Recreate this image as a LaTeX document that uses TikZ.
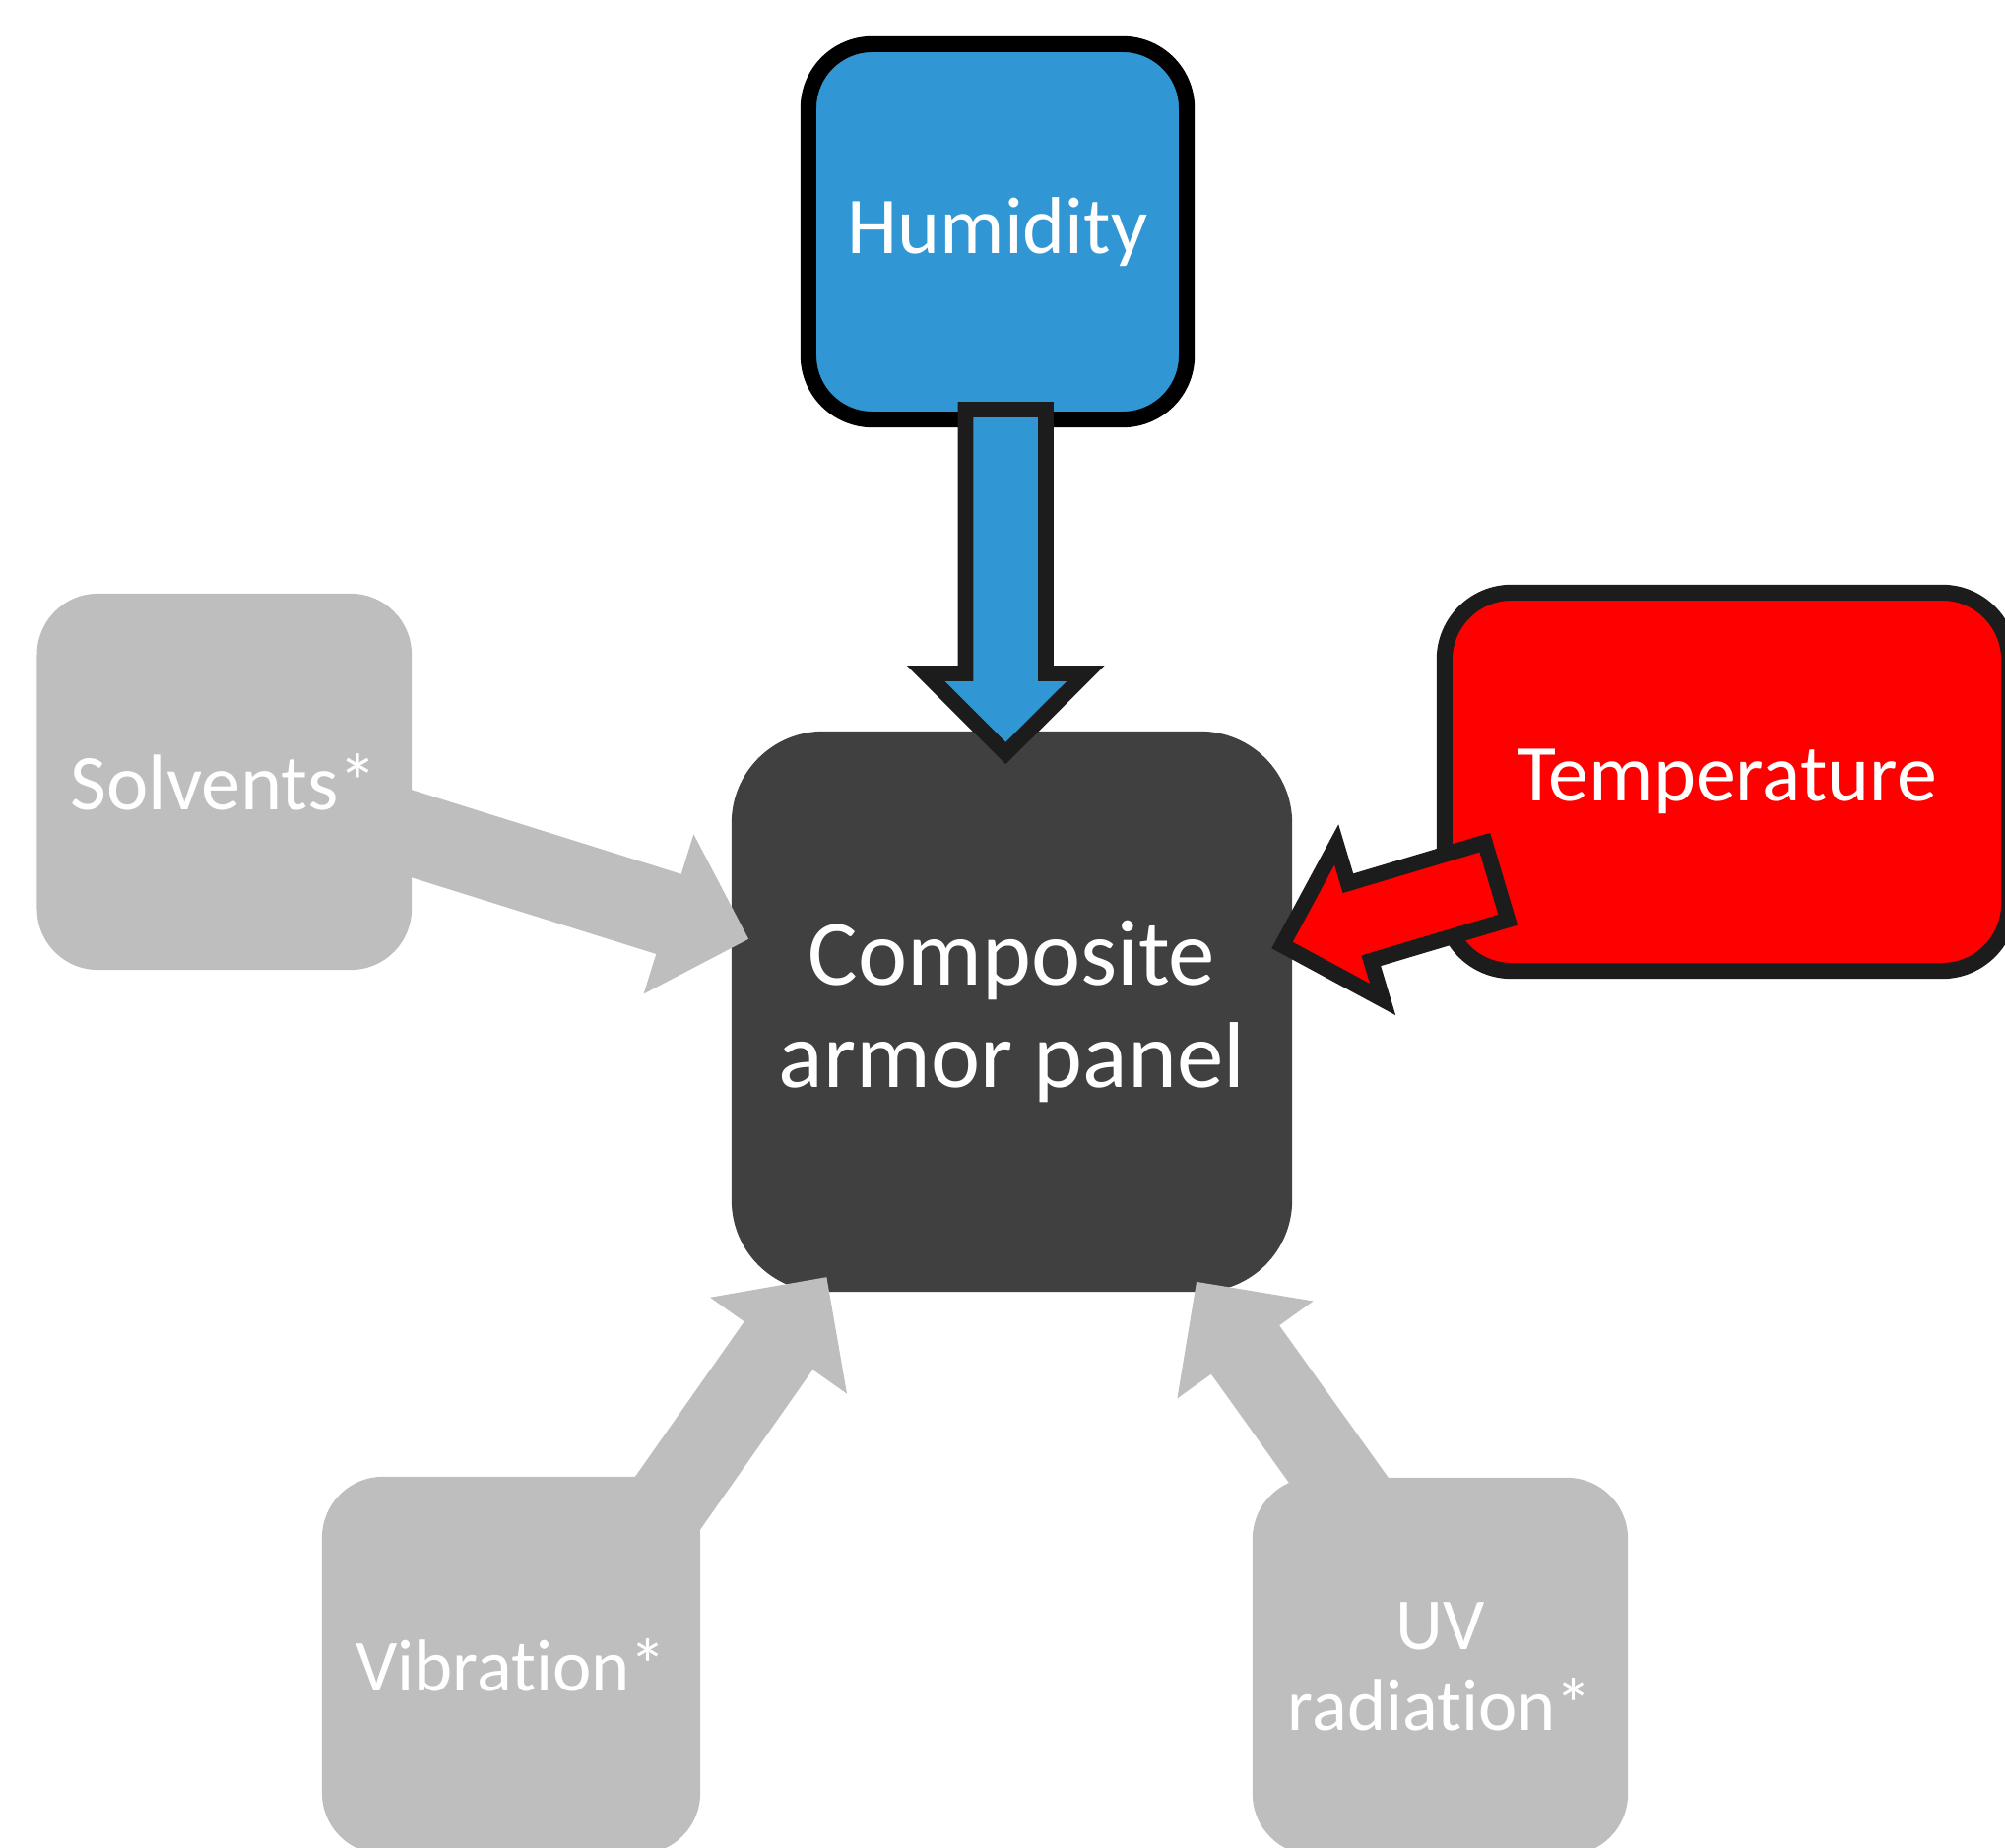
\documentclass[tikz,border=0pt]{standalone}
\usepackage{fontspec}
\setmainfont{Carlito}[Ligatures={NoCommon,NoRare}]
\definecolor{darkbox}{RGB}{64,64,64}
\definecolor{hblue}{RGB}{48,150,212}
\definecolor{lgray}{RGB}{190,190,190}
\definecolor{edgec}{RGB}{28,28,28}
\definecolor{tred}{RGB}{255,0,0}
\begin{document}
\begin{tikzpicture}[x=0.01cm,y=-0.01cm,
  box/.style={rectangle, inner sep=0pt, outer sep=0pt, text=white, align=center},
  greybox/.style={box, fill=lgray, rounded corners=0.62cm},
  smallfont/.style={font=\fontsize{21.2}{23.3}\selectfont},
  midfont/.style={font=\fontsize{23.3}{25.5}\selectfont},
  bigfont/.style={font=\fontsize{27}{29.7}\selectfont},
  blockarrow/.style={line width=4.5pt, draw=edgec, line join=miter},
  greyarrow/.style={fill=lgray, draw=none}]
\path[use as bounding box] (0,0) rectangle (2036,1877);

% boxes
\node[greybox, font=\fontsize{22.8}{25}\selectfont, minimum width=3.804cm, minimum height=3.82cm] (solv) at (227.8,794) {Solvents*};
\node[greybox, smallfont, minimum width=3.84cm, minimum height=3.83cm] (vib) at (519,1691.5) {Vibration*};
\node[greybox, smallfont, minimum width=3.81cm, minimum height=3.83cm] (uv) at (1462.5,1692.5) {UV\\radiation*};
\node[box, bigfont, fill=darkbox, rounded corners=0.93cm, minimum width=5.69cm, minimum height=5.69cm] (panel) at (1027.5,1027.5) {Composite\\armor panel};
\node[box, midfont, fill=hblue, draw=black, line width=4.6pt, rounded corners=0.65cm, minimum width=3.84cm, minimum height=3.81cm] (hum) at (1013,235.5) {Humidity};
\node[box, midfont, fill=tred, draw=edgec, line width=4.6pt, rounded corners=0.68cm, minimum width=5.73cm, minimum height=3.84cm] (temp) at (1753.5,794) {Temperature};

% grey block arrows (into the panel)
\fill[greyarrow] (414.9,801.2) -- (691.7,887.8) -- (704.4,847.3) -- (760.1,953.8)
  -- (653.6,1009.5) -- (666.3,969) -- (389.5,882.4) -- cycle;
\fill[greyarrow] (591.8,1575.5) -- (755.7,1342.3) -- (721,1317.8) -- (839.4,1297.2)
  -- (860,1415.6) -- (825.3,1391.1) -- (661.4,1624.3) -- cycle;
\fill[greyarrow] (1465,1578) -- (1299.1,1346.2) -- (1333.6,1321.5) -- (1215,1301.9)
  -- (1195.4,1420.4) -- (1229.9,1395.7) -- (1395.8,1627.4) -- cycle;

% humidity arrow
\filldraw[blockarrow, fill=hblue] (980.5,416) -- (980.5,684) -- (940,684) -- (1021.25,765)
  -- (1102.5,684) -- (1062,684) -- (1062,416) -- cycle;

% temperature arrow
\filldraw[blockarrow, fill=tred] (1507.8,855.7) -- (1368.9,897.2) -- (1357.1,857.9) -- (1302,960)
  -- (1404.1,1015.1) -- (1392.3,975.8) -- (1531.2,934.3) -- cycle;
\end{tikzpicture}
\end{document}
